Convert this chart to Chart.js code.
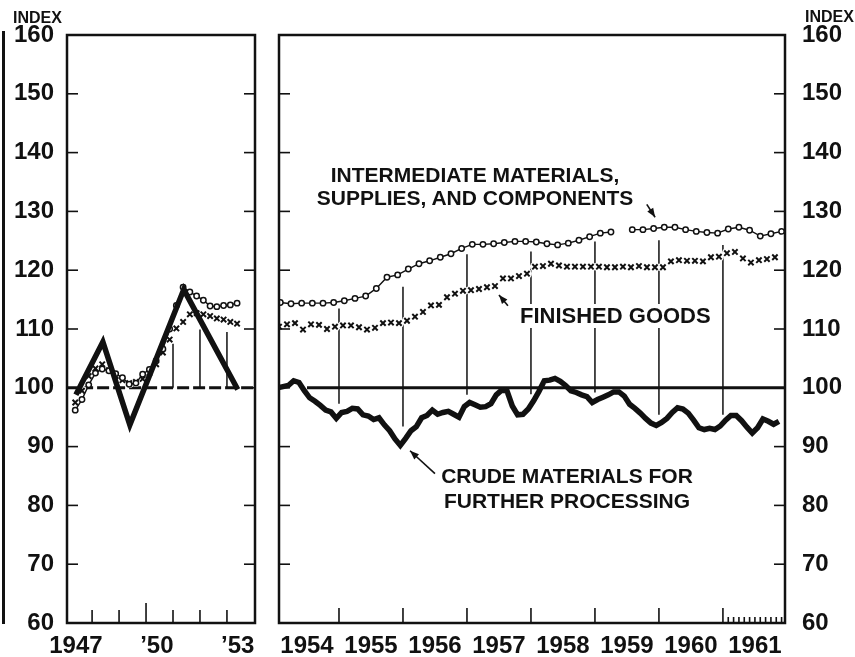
<!DOCTYPE html>
<html>
<head>
<meta charset="utf-8">
<script src="https://cdn.jsdelivr.net/npm/chart.js@4.4.1/dist/chart.umd.min.js"></script>
<style>
  html, body { margin: 0; padding: 0; background: #fff; }
  #wrap { position: relative; width: 855px; height: 657px; overflow: hidden;
          font-family: "Liberation Sans", Arial, sans-serif; font-weight: bold; color: #111; }
  #cLeft { position: absolute; left: 0; top: 0; }
  #cRight { position: absolute; left: 268px; top: 0; }
  .lbl { position: absolute; white-space: nowrap; z-index: 2; }
  .idx { font-size: 16px; line-height: 16px; }
  .note { font-size: 21px; }
  #stub { position: absolute; left: 2px; top: 31px; width: 2.5px; height: 593px; background: #111; }
</style>
</head>
<body>
<div id="wrap">
  <div id="stub"></div>
  <canvas id="cLeft" width="268" height="657"></canvas>
  <canvas id="cRight" width="587" height="657"></canvas>

  <div class="lbl idx" style="left:13px; top:10px;">INDEX</div>
  <div class="lbl idx" style="left:805px; top:9px;">INDEX</div>

  <div class="lbl note" style="left:475px; top:163px; line-height:23px; text-align:center; transform:translateX(-50%);">INTERMEDIATE MATERIALS,<br>SUPPLIES, AND COMPONENTS</div>
  <div class="lbl note" style="left:517px; top:304px; line-height:22px; font-size:22px; background:#fff; padding:1px 3px;">FINISHED GOODS</div>
  <div class="lbl note" style="left:567px; top:463px; line-height:25px; text-align:center; transform:translateX(-50%);">CRUDE MATERIALS FOR<br>FURTHER PROCESSING</div>
</div>

<script>
(() => {
  "use strict";

const INK = "#111";
const FONT = '"Liberation Sans", Arial, sans-serif';

// ---------- left panel: 1947-53 ----------
const leftYears = [1947, 1948, 1949, 1950, 1951, 1952, 1953];
const leftCrude = [98.8, 107.8, 93.7, 105.2, 116.7, 108.2, 99.7];
// quarterly, from 2nd quarter 1947
const leftInter = [96.2, 98.0, 100.5, 102.5, 103.2, 102.9, 102.4, 101.7, 100.6, 100.8, 102.3, 103.1,
                   104.6, 106.6, 110.0, 114.0, 117.1, 116.3, 115.6, 114.9, 113.9, 113.8, 114.0, 114.1, 114.4];
const leftFinished = [97.5, 99.5, 102.0, 103.3, 104.0, 103.0, 102.0, 101.3, 100.8, 101.0, 101.5, 102.5,
                      104.0, 106.0, 108.2, 110.1, 111.2, 112.5, 112.7, 112.5, 112.2, 111.8, 111.6, 111.2, 110.9];
const leftDropYears = [1951, 1952, 1953];
const leftDropLow = [100, 100, 100];
const leftDropHigh = [107.5, 109.9, 109.5];
const leftTickYears = [1947, 1950, 1953];
const leftTickLabels = ["1947", "\u201950", "\u201953"];
const leftMarkYears = [1948, 1949, 1950, 1951, 1952, 1953];

// ---------- right panel: 1954-61 ----------
const rightTickYears = [1954, 1955, 1956, 1957, 1958, 1959, 1960, 1961];
const rightTickLabels = ["1954", "1955", "1956", "1957", "1958", "1959", "1960", "1961"];
const rightMarkYears = [1955, 1956, 1957, 1958, 1959, 1960, 1961];
const monthMarks1961 = [1, 2, 3, 4, 5, 6, 7, 8, 9, 10, 11];

// monthly from Jan 1954
const crude = [
  100.0, 100.2, 100.4, 101.2, 100.9, 99.5, 98.3, 97.7, 97.0, 96.2, 95.9, 94.8,
  95.8, 96.0, 96.5, 96.4, 95.4, 95.2, 94.6, 94.9, 93.7, 92.7, 91.3, 90.2,
  91.4, 92.7, 93.4, 94.9, 95.3, 96.2, 95.5, 95.8, 96.0, 95.5, 95.0, 96.8,
  97.5, 97.1, 96.7, 96.8, 97.3, 98.8, 99.6, 99.5, 96.9, 95.4, 95.5, 96.4,
  97.8, 99.4, 101.2, 101.3, 101.6, 101.1, 100.4, 99.5, 99.2, 98.8, 98.5, 97.5,
  98.0, 98.4, 98.8, 99.3, 99.3, 98.6, 97.2, 96.5, 95.7, 94.8, 94.0, 93.6,
  94.1, 94.8, 95.8, 96.6, 96.4, 95.7, 94.5, 93.2, 92.9, 93.1, 92.9, 93.5,
  94.5, 95.3, 95.3, 94.4, 93.3, 92.3, 93.2, 94.7, 94.3, 93.8, 94.3
];
// every second month from Feb 1954
const inter = [
  114.5, 114.3, 114.4, 114.4, 114.4, 114.5, 114.8, 115.2, 115.6, 116.9, 118.8, 119.2,
  120.2, 121.1, 121.6, 122.2, 122.8, 123.7, 124.4, 124.4, 124.5, 124.7, 124.9, 124.9,
  124.8, 124.5, 124.3, 124.6, 125.1, 125.7, 126.3, 126.5, null, 126.9, 126.9, 127.1,
  127.3, 127.3, 126.9, 126.6, 126.4, 126.3, 127.0, 127.3, 126.8, 125.8, 126.2, 126.6
];
// eight marks a year
const finished = [
  110.4, 110.8, 111.0, 109.9, 110.8, 110.7, 110.0, 110.4, 110.6, 110.6, 110.3, 109.9,
  110.2, 111.0, 111.1, 111.0, 111.4, 112.1, 112.9, 114.0, 114.1, 115.4, 116.0, 116.5,
  116.6, 116.8, 117.1, 117.3, 118.6, 118.6, 119.0, 119.4, 120.6, 120.7, 121.1, 120.8,
  120.6, 120.6, 120.6, 120.6, 120.6, 120.5, 120.5, 120.6, 120.5, 120.7, 120.5, 120.5,
  120.5, 121.5, 121.7, 121.6, 121.6, 121.5, 122.2, 122.3, 122.9, 123.1, 122.0, 121.3,
  121.7, 121.9, 122.2
];
const dropYears = [1955, 1956, 1957, 1958, 1959, 1960, 1961];
const dropLow = [97.3, 93.4, 98.8, 98.9, 99.2, 95.4, 95.4];
const dropHigh = [113.5, 117.2, 122.7, 123.2, 124.9, 125.1, 124.3];

const BASE = 100;

// helpers
const pts = (vals, t0, step) => vals.map((v, i) => ({ x: t0 + i * step, y: v }));
const drops = (xs, lo, hi) => xs.flatMap((x, i) => [{ x, y: lo[i] }, { x, y: hi[i] }, { x, y: null }]);

function line(ctx, x1, y1, x2, y2) {
  ctx.beginPath();
  ctx.moveTo(x1, y1);
  ctx.lineTo(x2, y2);
  ctx.stroke();
}

function arrow(ctx, x1, y1, x2, y2) {
  line(ctx, x1, y1, x2, y2);
  const a = Math.atan2(y2 - y1, x2 - x1), L = 9, W = 3.5;
  ctx.beginPath();
  ctx.moveTo(x2, y2);
  ctx.lineTo(x2 - L * Math.cos(a) + W * Math.sin(a), y2 - L * Math.sin(a) - W * Math.cos(a));
  ctx.lineTo(x2 - L * Math.cos(a) - W * Math.sin(a), y2 - L * Math.sin(a) + W * Math.cos(a));
  ctx.closePath();
  ctx.fill();
}

// frame, inward ticks and arrows
const framePlugin = {
  id: "frame",
  afterDatasetsDraw(chart, args, opts) {
    const { ctx, chartArea: a, scales } = chart;
    ctx.save();
    ctx.strokeStyle = INK;
    ctx.fillStyle = INK;
    ctx.lineWidth = 2.5;
    ctx.strokeRect(a.left, a.top, a.right - a.left, a.bottom - a.top);

    ctx.lineWidth = 1.6;
    scales.y.ticks.forEach(t => {
      if (t.value <= 60 || t.value >= 160) return;
      const y = scales.y.getPixelForValue(t.value);
      line(ctx, a.left, y, a.left + 11, y);
      line(ctx, a.right - 11, y, a.right, y);
    });
    (opts.marks || []).forEach(m => {
      const x = scales.x.getPixelForValue(m.x);
      line(ctx, x, a.bottom, x, a.bottom - m.len);
    });

    (opts.arrows || []).forEach(ar => {
      arrow(ctx,
        scales.x.getPixelForValue(ar.from[0]), scales.y.getPixelForValue(ar.from[1]),
        scales.x.getPixelForValue(ar.to[0]), scales.y.getPixelForValue(ar.to[1]));
    });
    ctx.restore();
  }
};

function makeOptions(cfg) {
  return {
    responsive: false,
    animation: false,
    events: [],
    layout: { padding: cfg.padding },
    plugins: {
      legend: { display: false },
      tooltip: { enabled: false },
      frame: { marks: cfg.marks, arrows: cfg.arrows || [] }
    },
    scales: {
      x: {
        type: "linear",
        min: cfg.xMin,
        max: cfg.xMax,
        grid: { display: false, drawTicks: false },
        border: { display: false },
        afterFit: s => { s.height = 34; },
        afterBuildTicks: s => { s.ticks = cfg.tickYears.map(y => ({ value: y + cfg.tickShift })); },
        ticks: {
          autoSkip: false,
          maxRotation: 0,
          padding: 9,
          color: INK,
          font: { family: FONT, weight: "bold", size: 24 },
          callback: (v, i) => cfg.tickLabels[i]
        }
      },
      y: {
        position: cfg.yPos,
        min: 60,
        max: 160,
        grid: { display: false, drawTicks: false },
        border: { display: false },
        afterFit: s => { s.width = cfg.yWidth; },
        ticks: {
          stepSize: 10,
          padding: cfg.yPad,
          color: INK,
          font: { family: FONT, weight: "bold", size: 24 }
        }
      }
    }
  };
}

const crudeStyle = { borderColor: INK, borderWidth: 5.5, pointRadius: 0, borderJoinStyle: "miter", tension: 0 };
const interStyle = { borderColor: INK, borderWidth: 1.4, pointStyle: "circle", pointRadius: 2.7,
                     pointBackgroundColor: "#fff", pointBorderColor: INK, pointBorderWidth: 1.5, tension: 0 };
const finStyle = { borderColor: INK, showLine: false, pointStyle: "crossRot", pointRadius: 3.8,
                   pointBorderColor: INK, pointBorderWidth: 2 };
// white halo under the crosses, so the year lines break around them
const haloStyle = { showLine: false, pointStyle: "circle", pointRadius: 5, pointBorderWidth: 0,
                    pointBackgroundColor: "#fff", borderColor: "#fff" };
const dropStyle = { borderColor: INK, borderWidth: 1.5, pointRadius: 0, spanGaps: false };

// left chart
new Chart(document.getElementById("cLeft"), {
  type: "line",
  data: {
    datasets: [
      { ...crudeStyle, data: pts(leftCrude, leftYears[0] + 0.4, 1) },
      { ...interStyle, data: pts(leftInter, 1947.375, 0.25) },
      { ...finStyle, data: pts(leftFinished, 1947.375, 0.25) },
      { ...haloStyle, data: pts(leftFinished, 1947.375, 0.25) },
      { borderColor: INK, borderWidth: 3, borderDash: [12, 4], pointRadius: 0,
        data: [{ x: 1947, y: BASE }, { x: 1954.1, y: BASE }] },
      { ...dropStyle, data: drops(leftDropYears, leftDropLow, leftDropHigh) }
    ]
  },
  options: makeOptions({
    padding: { top: 35, right: 13, left: 0, bottom: 0 },
    xMin: 1947.07, xMax: 1954.04,
    tickYears: leftTickYears, tickLabels: leftTickLabels, tickShift: 0.4,
    yPos: "left", yWidth: 67, yPad: 13,
    marks: leftMarkYears.map(y => ({ x: y, len: y === 1950 ? 20 : 13 }))
  }),
  plugins: [framePlugin]
});

// right chart
new Chart(document.getElementById("cRight"), {
  type: "line",
  data: {
    datasets: [
      { ...crudeStyle, data: pts(crude, 1954 + 0.5 / 12, 1 / 12) },
      { ...interStyle, data: pts(inter, 1954 + 1 / 12, 1 / 6) },
      { ...finStyle, data: pts(finished, 1954 + 0.5 / 8, 1 / 8) },
      { ...haloStyle, data: pts(finished, 1954 + 0.5 / 8, 1 / 8) },
      { borderColor: INK, borderWidth: 3, pointRadius: 0,
        data: [{ x: 1954.5, y: BASE }, { x: 1962, y: BASE }] },
      { ...dropStyle, data: drops(dropYears, dropLow, dropHigh) }
    ]
  },
  options: makeOptions({
    padding: { top: 35, right: 0, left: 11, bottom: 0 },
    xMin: 1954.0625, xMax: 1961.97,
    tickYears: rightTickYears, tickLabels: rightTickLabels, tickShift: 0.5,
    yPos: "right", yWidth: 70, yPad: 17,
    marks: rightMarkYears.map(y => ({ x: y, len: 15 }))
      .concat(monthMarks1961.map(m => ({ x: 1961 + m / 12, len: 6 }))),
    arrows: [
      { from: [1959.81, 131.2], to: [1959.94, 129.0] },
      { from: [1957.64, 113.95], to: [1957.50, 115.8] },
      { from: [1956.50, 85.4], to: [1956.11, 89.3] }
    ]
  }),
  plugins: [framePlugin]
});
})();
</script>
</body>
</html>
